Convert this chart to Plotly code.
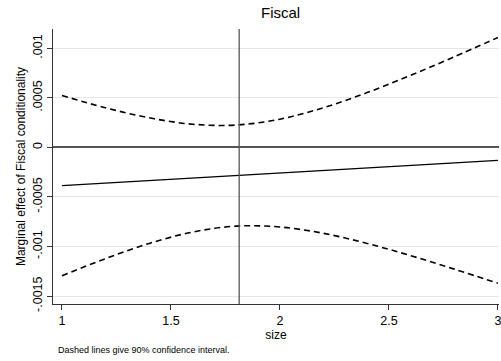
import plotly.graph_objects as go

size_vals = [1.0, 1.2, 1.4, 1.6, 1.8, 2.0, 2.2, 2.4, 2.6, 2.8, 3.0]
marg_effect = [-0.000386, -0.000361, -0.000335, -0.000310, -0.000284, -0.000259,
               -0.000233, -0.000208, -0.000182, -0.000157, -0.000131]
upper_ci = [0.000524, 0.000400, 0.000299, 0.000234, 0.000226, 0.000285,
            0.000401, 0.000553, 0.000728, 0.000914, 0.001109]
lower_ci = [-0.001296, -0.001122, -0.000969, -0.000854, -0.000794, -0.000803,
            -0.000867, -0.000969, -0.001092, -0.001228, -0.001371]
mean_size = 1.813
y_tickvals = [0.001, 0.0005, 0, -0.0005, -0.001, -0.0015]
y_ticktext = [".001", ".0005", "0", "-.0005", "-.001", "-.0015"]
x_tickvals = [1, 1.5, 2, 2.5, 3]
x_ticktext = ["1", "1.5", "2", "2.5", "3"]

FONT = "Liberation Sans, Arial, sans-serif"

fig = go.Figure()
fig.add_trace(go.Scatter(x=size_vals, y=upper_ci, mode="lines", line_shape="spline",
                         line=dict(color="black", width=1.6, dash="6px,4px"), showlegend=False))
fig.add_trace(go.Scatter(x=size_vals, y=lower_ci, mode="lines", line_shape="spline",
                         line=dict(color="black", width=1.6, dash="6px,4px"), showlegend=False))
fig.add_trace(go.Scatter(x=size_vals, y=marg_effect, mode="lines",
                         line=dict(color="black", width=1.2), showlegend=False))

fig.add_shape(type="line", xref="x", yref="paper", x0=mean_size, x1=mean_size, y0=0, y1=1,
              line=dict(color="#555555", width=1.3), layer="above")

fig.update_layout(
    width=501, height=361,
    margin=dict(l=53, r=0, t=29, b=57),
    plot_bgcolor="white", paper_bgcolor="white",
    font=dict(family=FONT, color="black", size=12),
    title=dict(text="Fiscal", x=0.56, xanchor="center", y=0.965, yanchor="middle",
               font=dict(size=15, family=FONT, color="black")),
    xaxis=dict(range=[0.959, 3.005], tickvals=x_tickvals, ticktext=x_ticktext,
               ticks="outside", ticklen=5, tickcolor="#333", tickwidth=1,
               showline=True, linecolor="#333", linewidth=1.2, showgrid=False, zeroline=False,
               ticklabeloverflow="allow",
               title=dict(text="size", font=dict(size=12), standoff=1),
               tickfont=dict(size=12.5)),
    yaxis=dict(range=[-0.00158, 0.001195], tickvals=y_tickvals, ticktext=y_ticktext,
               tickangle=-90, ticks="outside", ticklen=5, tickcolor="#333", tickwidth=1,
               showline=True, linecolor="#333", linewidth=1.2,
               showgrid=True, gridcolor="#e6e6e6", gridwidth=1,
               zeroline=True, zerolinecolor="#555555", zerolinewidth=1.5,
               title=dict(text="Marginal effect of Fiscal conditionality", font=dict(size=12), standoff=2),
               tickfont=dict(size=12.5)),
    annotations=[dict(text="Dashed lines give 90% confidence interval.", xref="paper", yref="paper",
                      x=0.0065, y=-0.167, xanchor="left", yanchor="middle", showarrow=False,
                      font=dict(size=9, family=FONT, color="black"))],
)

fig.write_html("out.html")
